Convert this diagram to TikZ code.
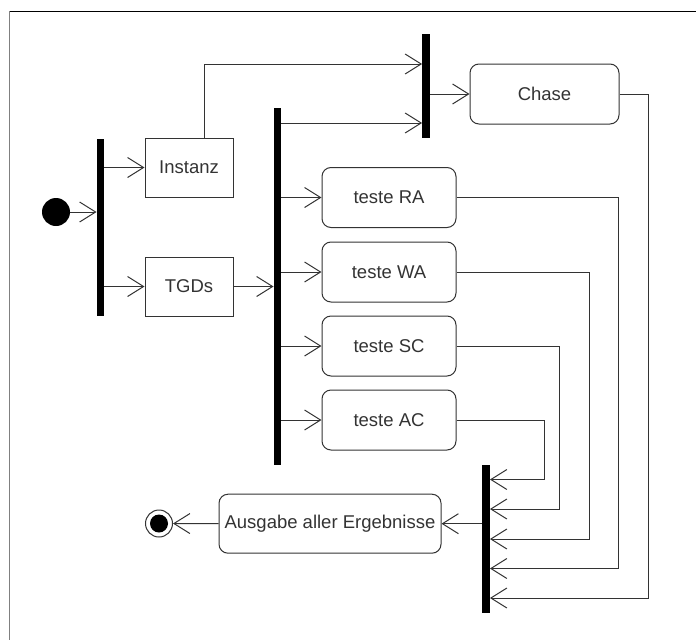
\documentclass[tikz,border=0pt]{standalone}
\usepackage{fontspec}
\setmainfont{Liberation Sans}
\usetikzlibrary{arrows.meta}
\definecolor{ln}{HTML}{333333}
\tikzset{
  act/.style={draw=ln, line width=1pt, text=ln, minimum width=88pt, minimum height=59pt, inner sep=0pt, font=\fontsize{18.5}{21}\selectfont},
  ract/.style={act, rounded corners=9pt, minimum width=134pt, minimum height=60pt},
  bar/.style={fill=black, draw=none, minimum width=7.5pt, inner sep=0pt},
  arr/.style={draw=ln, line width=1pt, -{Straight Barb[length=16pt, width=20pt, line width=1pt]}},
  conn/.style={draw=ln, line width=1pt},
}
\begin{document}
\begin{tikzpicture}[x=1pt, y=-1pt]
\useasboundingbox (0,0) rectangle (696,640);
% frame
\draw[black, line width=1pt] (9,11) -- (696,11);
\draw[gray, line width=1pt] (9,11) -- (9,640);
% nodes
\node[circle, fill=black, minimum size=28pt, inner sep=0pt] (init) at (56,212) {};
\node[bar, minimum height=177pt] (bar1) at (100.5,227.5) {};
\node[act] (inst) at (189,167.5) {Instanz};
\node[act] (tgd) at (189,286.5) {TGDs};
\node[bar, minimum height=357pt] (bar2) at (277.5,286.5) {};
\node[bar, minimum height=104pt] (bar3) at (426,86) {};
\node[ract, minimum width=149pt] (chase) at (544.5,94) {Chase};
\node[ract] (ra) at (389,197.5) {teste RA};
\node[ract] (wa) at (389,272) {teste WA};
\node[ract] (sc) at (389,346) {teste SC};
\node[ract] (ac) at (389,420) {teste AC};
\node[bar, minimum height=148pt] (bar4) at (486,539) {};
\node[ract, minimum width=222pt, minimum height=59pt] (out) at (330,523.7) {Ausgabe aller Ergebnisse};
\node[circle, draw=ln, line width=1pt, minimum size=27pt, inner sep=0pt] (final) at (159,523.5) {};
\node[circle, fill=black, minimum size=18pt, inner sep=0pt] (finalin) at (final) {};
% connectors
\draw[arr] (init) -- (init -| bar1.west);
\draw[arr] (bar1.east |- inst) -- (inst);
\draw[arr] (bar1.east |- tgd) -- (tgd);
\draw[arr] ([xshift=15pt]inst.north) |- (bar3.west |- 0,64);
\draw[arr] (tgd) -- (tgd -| bar2.west);
\draw[arr] (bar2.east |- 0,123) -- (bar3.west |- 0,123);
\draw[arr] (bar3.east |- chase) -- (chase);
\draw[arr] (bar2.east |- ra) -- (ra);
\draw[arr] (bar2.east |- wa) -- (wa);
\draw[arr] (bar2.east |- sc) -- (sc);
\draw[arr] (bar2.east |- ac) -- (ac);
\draw[arr] (chase.east) -- (chase.east -| 648.5,0) |- (bar4.east |- 0,598);
\draw[arr] (ra.east) -- (ra.east -| 618.5,0) |- (bar4.east |- 0,568.5);
\draw[arr] (wa.east) -- (wa.east -| 589,0) |- (bar4.east |- 0,539);
\draw[arr] (sc.east) -- (sc.east -| 559,0) |- (bar4.east |- 0,509);
\draw[arr] (ac.east) -- (ac.east -| 544,0) |- (bar4.east |- 0,479.5);
\draw[arr] (bar4.west |- out) -- (out);
\draw[arr] (out) -- (final);
\end{tikzpicture}
\end{document}
